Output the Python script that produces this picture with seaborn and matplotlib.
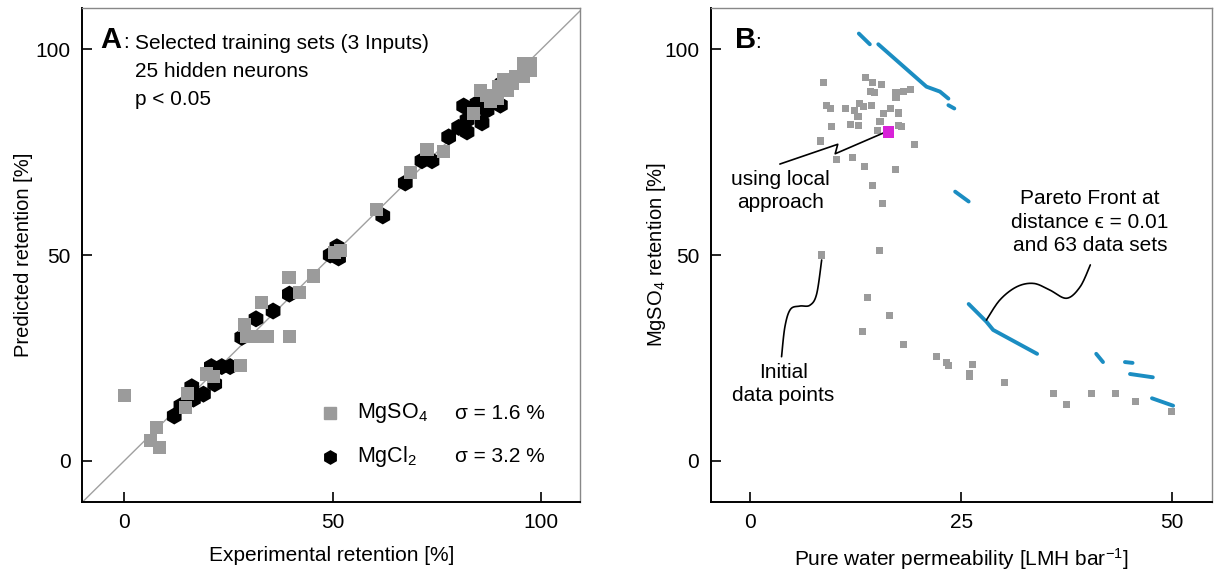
import numpy as np
import pandas as pd
import matplotlib
matplotlib.use("Agg")
import matplotlib.pyplot as plt
import seaborn as sns

sns.set_theme(style="white")
plt.rcParams['font.family'] = ['Liberation Sans', 'DejaVu Sans']
plt.rcParams['mathtext.fontset'] = 'custom'
plt.rcParams['mathtext.rm'] = 'Liberation Sans'
plt.rcParams['mathtext.it'] = 'Liberation Sans'
plt.rcParams['mathtext.default'] = 'regular'
for k in ['text.color', 'axes.labelcolor', 'xtick.color', 'ytick.color']:
    plt.rcParams[k] = 'black'

# ---------------- Panel A data ----------------
mgso4_exp = [0.0, 7.7, 6.4, 8.4, 14.6, 15.2, 19.7, 21.4, 27.8, 28.9, 29.4, 31.6, 34.4, 33.0,
             39.6, 39.5, 42.1, 45.4, 51.8, 50.4, 60.5, 68.6, 72.6, 76.6, 83.8, 85.4, 87.8,
             89.8, 89.4, 91.8, 93.8, 95.8, 97.4, 97.4, 95.8, 93.0, 87.0, 91.0]
mgso4_pred = [15.8, 8.1, 4.9, 3.3, 13.0, 16.3, 21.1, 20.5, 23.1, 33.0, 30.3, 30.3, 30.3, 38.4,
              30.3, 44.5, 40.9, 44.9, 51.2, 50.6, 61.0, 70.0, 75.7, 75.1, 84.4, 90.0, 87.4,
              90.9, 88.1, 90.0, 93.3, 93.3, 96.5, 94.9, 96.5, 91.7, 88.8, 92.5]
mgcl2_exp = [12.0, 13.6, 16.2, 16.6, 19.0, 21.7, 20.9, 23.4, 25.4, 28.2, 31.6, 35.7, 39.6,
             49.4, 51.0, 51.4, 62.0, 67.4, 71.4, 73.8, 77.8, 80.2, 82.2, 82.2, 81.4, 84.6,
             85.8, 90.2, 90.6, 87.0]
mgcl2_pred = [10.9, 13.4, 18.0, 15.0, 16.2, 18.7, 22.9, 22.9, 22.9, 30.0, 34.5, 36.4, 40.5,
              50.0, 52.0, 49.3, 59.5, 67.5, 72.9, 72.9, 78.7, 81.0, 79.9, 82.8, 86.2, 86.8,
              82.1, 86.4, 91.7, 85.2]
legend_labels = ["MgSO$_4$", "MgCl$_2$"]
sigma_labels = ["σ = 1.6 %", "σ = 3.2 %"]
a_ticks = [0, 50, 100]

# ---------------- Panel B data ----------------
init_perm = [8.7, 13.7, 14.5, 15.6, 14.3, 14.8, 17.3, 18.2, 19.0, 17.3, 9.1, 9.5, 11.3, 13.0,
             13.5, 14.4, 12.4, 12.8, 15.8, 16.7, 17.6, 9.7, 11.9, 12.9, 15.4, 17.6, 18.0, 15.1,
             8.4, 19.5, 10.2, 12.2, 13.6, 17.2, 14.5, 15.7, 8.5, 15.3, 13.9, 16.5, 13.3, 18.2,
             22.1, 23.3, 23.5, 26.3, 26.0, 26.0, 30.1, 35.9, 37.5, 40.4, 43.3, 45.7, 49.9]
init_ret = [91.8, 93.1, 91.8, 91.5, 89.7, 89.4, 89.4, 89.8, 90.2, 88.3, 86.4, 85.6, 85.6, 86.8,
            86.0, 86.4, 85.0, 83.7, 84.4, 85.6, 84.5, 81.3, 81.8, 81.5, 82.4, 81.5, 81.3, 80.2,
            77.7, 76.9, 73.2, 73.7, 71.4, 70.8, 67.0, 62.5, 50.0, 51.0, 39.6, 35.4, 31.4, 28.3,
            25.3, 23.9, 23.2, 23.3, 21.3, 20.6, 19.0, 16.3, 13.8, 16.4, 16.4, 14.4, 12.1]
local_perm = [16.4]
local_ret = [79.9]
pareto_seg = [1, 1, 2, 2, 2, 2, 3, 3, 4, 4, 5, 5, 5, 5, 6, 6, 7, 7, 8, 8, 9, 9]
pareto_perm = [12.9, 14.2, 15.2, 20.9, 22.5, 23.5, 23.5, 24.2, 24.3, 25.9, 25.9, 28.0, 28.8,
               34.0, 41.0, 41.8, 44.4, 45.3, 45.0, 47.7, 47.6, 50.1]
pareto_ret = [103.8, 101.2, 101.2, 90.9, 89.7, 88.0, 86.4, 85.6, 65.4, 63.0, 38.1, 33.8, 31.8,
              26.0, 26.0, 24.0, 24.0, 23.8, 21.1, 20.3, 15.2, 13.4]
b_xticks = [0, 25, 50]
b_yticks = [0, 50, 100]

# annotation connector paths (data coordinates)
conn_local = [(3.55, 72.1), (10.4, 76.9), (10.1, 74.6), (16.2, 80.0)]
conn_init = [(3.75, 25.3), (4.15, 32.6), (4.8, 36.8), (5.9, 37.6), (7.1, 37.8), (7.9, 40.5), (8.5, 48.8)]
conn_pareto = [(28.0, 34.2), (29.6, 39.1), (31.6, 42.3), (33.6, 43.1), (35.5, 41.5), (37.5, 39.5),
               (39.1, 42.3), (40.3, 47.6)]

GRAY = "#9b9b9b"
BLUE = "#1b8dc2"
MAGENTA = "#d822d8"
FS = 15

def smooth(pts, n=20):
    p = np.array(pts, dtype=float)
    p = np.vstack([p[0], p, p[-1]])
    out = []
    for i in range(1, len(p) - 2):
        p0, p1, p2, p3 = p[i - 1], p[i], p[i + 1], p[i + 2]
        for t in np.linspace(0, 1, n, endpoint=False):
            t2, t3 = t * t, t * t * t
            out.append(0.5 * ((2 * p1) + (-p0 + p2) * t + (2 * p0 - 5 * p1 + 4 * p2 - p3) * t2
                              + (-p0 + 3 * p1 - 3 * p2 + p3) * t3))
    out.append(p[-2])
    return np.array(out)

def style_axes(ax):
    for s in ['left', 'bottom']:
        ax.spines[s].set_color('black')
        ax.spines[s].set_linewidth(1.4)
    for s in ['top', 'right']:
        ax.spines[s].set_color('#888888')
        ax.spines[s].set_linewidth(1.0)
    ax.tick_params(axis='both', direction='in', length=7, width=1.2, color='black',
                   labelsize=FS, bottom=True, left=True, top=False, right=False)
    ax.tick_params(axis='y', pad=8.5)
    ax.tick_params(axis='x', pad=8)
    ax.grid(False)

fig = plt.figure(figsize=(12.15, 5.74), dpi=100)
axA = fig.add_axes([0.0679, 0.1254, 0.4095, 0.8606])
axB = fig.add_axes([0.5852, 0.1254, 0.4123, 0.8606])

# ---- Panel A ----
axA.set_xlim(-10, 109.3)
axA.set_ylim(-10, 110)
axA.plot([-10, 110], [-10, 110], color="#a0a0a0", lw=1.0, zorder=1)
dfA1 = pd.DataFrame({"x": mgso4_exp, "y": mgso4_pred})
dfA2 = pd.DataFrame({"x": mgcl2_exp, "y": mgcl2_pred})
sns.scatterplot(data=dfA2, x="x", y="y", ax=axA, marker="h", s=150, color="black",
                edgecolor="none", linewidth=0, zorder=3)
sns.scatterplot(data=dfA1, x="x", y="y", ax=axA, marker="s", s=90, color=GRAY,
                edgecolor="none", linewidth=0, zorder=4)
axA.set_xticks(a_ticks)
axA.set_yticks(a_ticks)
axA.set_xlabel("Experimental retention [%]", fontsize=FS, labelpad=10)
axA.set_ylabel("Predicted retention [%]", fontsize=14.5, labelpad=2)
style_axes(axA)

axA.text(0.035, 0.935, "A", transform=axA.transAxes, fontsize=21, fontweight='bold',
         ha='left', va='center')
axA.text(0.081, 0.93, ":", transform=axA.transAxes, fontsize=FS, ha='left', va='center')
for i, t in enumerate(["Selected training sets (3 Inputs)", "25 hidden neurons", "p < 0.05"]):
    axA.text(0.106, 0.928 - i * 0.057, t, transform=axA.transAxes, fontsize=FS,
             ha='left', va='center')

leg_y = [0.18, 0.092]
axA.plot([0.498], [leg_y[0]], marker='s', ms=8, color=GRAY, transform=axA.transAxes, ls='none')
axA.plot([0.498], [leg_y[1]], marker='h', ms=9.5, color='black', transform=axA.transAxes, ls='none')
for yy, lab, sg in zip(leg_y, legend_labels, sigma_labels):
    axA.text(0.552, yy, lab, transform=axA.transAxes, fontsize=FS + 0.5, ha='left', va='center')
    axA.text(0.748, yy, sg, transform=axA.transAxes, fontsize=FS, ha='left', va='center')

# ---- Panel B ----
axB.set_xlim(-4.6, 54.7)
axB.set_ylim(-10, 110)
dfP = pd.DataFrame({"seg": pareto_seg, "x": pareto_perm, "y": pareto_ret})
sns.lineplot(data=dfP, x="x", y="y", units="seg", estimator=None, sort=False, ax=axB,
             color=BLUE, lw=2.8, zorder=2, solid_capstyle='round')
dfI = pd.DataFrame({"x": init_perm, "y": init_ret})
sns.scatterplot(data=dfI, x="x", y="y", ax=axB, marker="s", s=26, color=GRAY,
                edgecolor="none", linewidth=0, zorder=3)
dfL = pd.DataFrame({"x": local_perm, "y": local_ret})
sns.scatterplot(data=dfL, x="x", y="y", ax=axB, marker="s", s=70, color=MAGENTA,
                edgecolor="none", linewidth=0, zorder=5)
for pts in [conn_local, conn_init, conn_pareto]:
    c = smooth(pts) if pts is not conn_local else np.array(pts)
    axB.plot(c[:, 0], c[:, 1], color='black', lw=1.2, zorder=4)

axB.text(3.66, 65.5, "using local\napproach", fontsize=FS, ha='center', va='center',
         linespacing=1.28)
axB.text(3.95, 18.7, "Initial\ndata points", fontsize=FS, ha='center', va='center',
         linespacing=1.28)
axB.text(40.26, 58.0, "Pareto Front at\ndistance ϵ = 0.01\nand 63 data sets", fontsize=FS,
         ha='center', va='center', linespacing=1.28)

axB.set_xticks(b_xticks)
axB.set_yticks(b_yticks)
axB.set_xlabel("Pure water permeability [LMH bar$^{-1}$]", fontsize=FS, labelpad=10)
axB.set_ylabel("MgSO$_4$ retention [%]", fontsize=14.5, labelpad=-3)
style_axes(axB)
axB.text(0.047, 0.935, "B", transform=axB.transAxes, fontsize=21, fontweight='bold',
         ha='left', va='center')
axB.text(0.089, 0.93, ":", transform=axB.transAxes, fontsize=FS, ha='left', va='center')

fig.savefig("out.png", dpi=100)
